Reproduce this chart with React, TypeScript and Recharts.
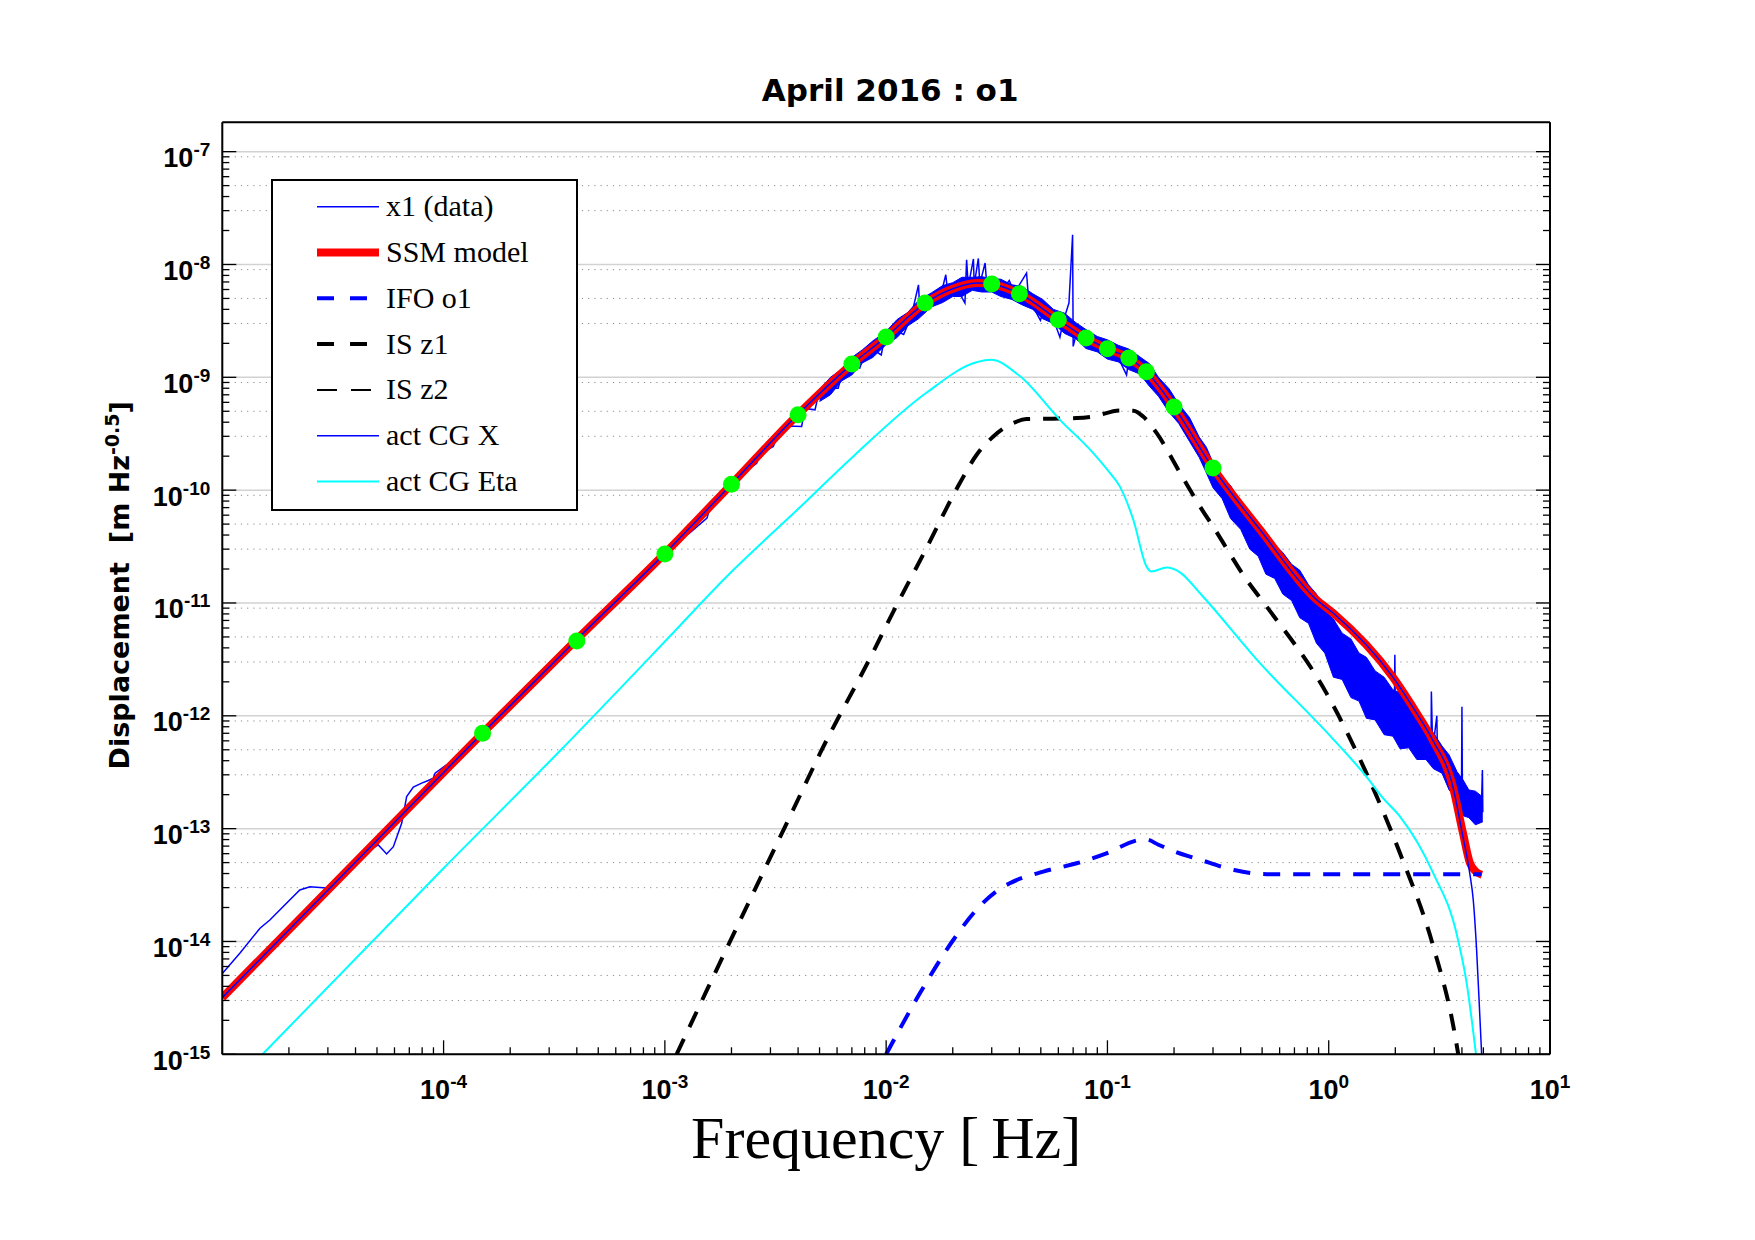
import React from 'react';
import { ComposedChart, Line, Area, Scatter, XAxis, YAxis, CartesianGrid, Legend, Label } from 'recharts';

// ---------------- axis ticks ----------------
const minorMults = [2, 3, 4, 5, 6, 7, 8, 9];
const xDecadeExps = [-5, -4, -3, -2, -1, 0, 1];
const yDecadeExps = [-15, -14, -13, -12, -11, -10, -9, -8, -7];
const xLabelExps = [-4, -3, -2, -1, 0, 1];
const yLabelExps = [-15, -14, -13, -12, -11, -10, -9, -8, -7];

const xMajor = xDecadeExps.map((e) => Math.pow(10, e));
const xMinor = xDecadeExps.slice(0, -1).flatMap((e) => minorMults.map((m) => m * Math.pow(10, e)));
const yMajor = yDecadeExps.map((e) => Math.pow(10, e));
const yMinor = yDecadeExps.slice(0, -1).flatMap((e) => minorMults.map((m) => m * Math.pow(10, e)));
const xAll = [...xMajor, ...xMinor].sort((a, b) => a - b);
const yAll = [...yMajor, ...yMinor].sort((a, b) => a - b);

const X_DOMAIN = [1e-5, 10];
const Y_DOMAIN = [1e-15, 1.82e-7];

// ---------------- series data ----------------
// x1 (data)
const dataF = [
  1e-5, 1.2e-5, 1.48e-5, 1.64e-5, 1.95e-5, 2.24e-5, 2.49e-5, 2.86e-5, 3.07e-5, 3.4e-5, 4e-5, 4.6e-5,
  5.07e-5, 5.53e-5, 5.93e-5, 6.47e-5, 6.81e-5, 7.3e-5, 7.96e-5, 8.53e-5, 8.98e-5, 9.15e-5, 1.03e-4,
  1.19e-4, 1.5e-4, 2e-4, 3e-4, 4e-4, 6e-4, 8e-4, 1e-3,
  1.2e-3, 1.3e-3, 1.55e-3, 1.6e-3, 2e-3, 2.3e-3, 2.6e-3, 2.7e-3, 3.09e-3, 3.2e-3, 3.6e-3, 4.15e-3,
  4.3e-3, 4.77e-3, 4.9e-3, 5.5e-3, 6.07e-3, 6.3e-3, 7e-3, 7.6e-3, 7.9e-3, 8.6e-3, 9.5e-3, 9.8e-3,
  1.1e-2, 1.2e-2, 1.3e-2, 1.4e-2, 1.42e-2, 1.6e-2, 1.75e-2, 1.86e-2, 1.9e-2, 2.1e-2, 2.27e-2, 2.31e-2,
  2.35e-2, 2.48e-2, 2.5e-2, 2.61e-2, 2.65e-2, 2.8e-2, 2.85e-2, 3.1e-2, 3.4e-2, 3.6e-2, 3.8e-2, 4.31e-2,
  4.4e-2, 4.98e-2, 5.2e-2, 5.6e-2, 6.1e-2, 6.3e-2, 6.7e-2, 6.96e-2, 7.0e-2, 7.3e-2, 8e-2, 9e-2, 0.1,
  0.11, 0.122, 0.125, 0.14, 0.15, 0.17, 0.2, 0.25, 0.3, 0.37, 0.52, 0.74, 1.0, 1.05, 1.06, 1.07, 1.48,
  1.98, 1.99, 2.0, 2.5, 2.9, 2.91, 2.95, 3.08, 3.1, 3.6, 3.98, 4.0, 4.02, 4.5, 4.9, 4.95, 4.97,
];
const dataV = [
  5.2e-15, 7.86e-15, 1.31e-14, 1.55e-14, 2.18e-14, 2.86e-14, 3.06e-14, 3.0e-14, 2.96e-14, 3.5e-14, 4.9e-14, 6.4e-14,
  7.17e-14, 5.97e-14, 6.92e-14, 1.12e-13, 1.92e-13, 2.33e-13, 2.53e-13, 2.67e-13, 2.8e-13, 3.1e-13, 3.67e-13,
  4.21e-13, 6.9e-13, 1.22e-12, 2.75e-12, 4.7e-12, 1.05e-11, 1.8e-11, 2.7e-11,
  3.8e-11, 4.2e-11, 5.65e-11, 7.0e-11, 1.1e-10, 1.45e-10, 1.73e-10, 2.1e-10, 2.44e-10, 2.9e-10, 3.7e-10, 3.67e-10,
  5.3e-10, 5.15e-10, 6.5e-10, 8.0e-10, 8.0e-10, 1.05e-9, 1.28e-9, 1.21e-9, 1.5e-9, 1.8e-9, 1.58e-9, 2.15e-9,
  2.6e-9, 2.4e-9, 3.5e-9, 6.6e-9, 3.8e-9, 4.6e-9, 5.0e-9, 8.1e-9, 5.5e-9, 6.0e-9, 4.55e-9, 1.1e-8,
  6.4e-9, 1.12e-8, 6.6e-9, 1.13e-8, 6.7e-9, 1.03e-8, 6.6e-9, 6.3e-9, 6.2e-9, 7.2e-9, 5.6e-9, 8.4e-9,
  5.0e-9, 3.2e-9, 4.2e-9, 3.6e-9, 2.27e-9, 3.1e-9, 4.55e-9, 1.83e-8, 1.88e-9, 2.6e-9, 2.2e-9, 2.0e-9, 1.75e-9,
  1.6e-9, 1.05e-9, 1.45e-9, 1.25e-9, 1.1e-9, 8.2e-10, 5.2e-10, 2.6e-10, 1.45e-10, 8.5e-11, 3.0e-11, 1.3e-11, 5.0e-12, 4.2e-12, 7e-12, 3.8e-12, 2.2e-12,
  1.2e-12, 3.47e-12, 1.1e-12, 6.5e-13, 5.0e-13, 1.64e-12, 5e-13, 1.0e-12, 4.6e-13, 3.0e-13, 2.0e-13, 1.2e-12, 2.0e-13, 1.7e-13, 1.6e-13, 3.3e-13, 1.4e-13,
];
// x1 (data) noise envelope (lower / upper edge of the dense noisy trace)
const bandF = [
  5e-3, 5.6e-3, 6.3e-3, 7e-3, 7.8e-3, 8.7e-3, 1e-2, 1.12e-2, 1.25e-2, 1.4e-2, 1.6e-2, 1.8e-2, 2e-2, 2.2e-2,
  2.45e-2, 2.7e-2, 3e-2, 3.3e-2, 3.7e-2, 4.1e-2, 4.6e-2, 5.1e-2, 5.7e-2, 6.4e-2, 7.2e-2, 8e-2, 9e-2, 0.1,
  0.112, 0.125, 0.14, 0.155, 0.17, 0.19, 0.21, 0.235, 0.26, 0.28,
  0.3, 0.33, 0.36, 0.4, 0.44, 0.48, 0.52, 0.57, 0.62, 0.68, 0.74, 0.81, 0.88, 0.96, 1.05, 1.15, 1.26, 1.37,
  1.48, 1.62, 1.78, 1.95, 2.1, 2.3, 2.5, 2.75, 2.97, 3.25, 3.5, 3.8, 4.05, 4.3, 4.6, 4.97,
];
const bandLo = [
  6.1e-10, 7.0e-10, 9.3e-10, 1.05e-9, 1.34e-9, 1.5e-9, 1.95e-9, 2.25e-9, 2.85e-9, 3.3e-9, 4.2e-9, 4.6e-9, 5.2e-9, 5.2e-9,
  5.9e-9, 5.7e-9, 5.7e-9, 5.2e-9, 4.9e-9, 4.4e-9, 4.0e-9, 3.3e-9, 3.0e-9, 2.45e-9, 2.2e-9, 1.8e-9, 1.68e-9, 1.45e-9,
  1.37e-9, 1.17e-9, 1.07e-9, 8.3e-10, 6.8e-10, 4.9e-10, 3.9e-10, 2.7e-10, 1.95e-10, 1.42e-10,
  1.05e-10, 8.4e-11, 5.6e-11, 4.5e-11, 3.0e-11, 2.6e-11, 1.8e-11, 1.65e-11, 1.2e-11, 1.05e-11, 7.4e-12, 6.6e-12, 4.4e-12, 3.6e-12, 2.2e-12, 2.1e-12, 1.45e-12, 1.35e-12,
  9.5e-13, 9.2e-13, 6.8e-13, 6.6e-13, 5.1e-13, 5.2e-13, 4.1e-13, 4.1e-13, 3.4e-13, 3.1e-13, 2.2e-13, 1.85e-13, 1.3e-13, 1.25e-13, 1.08e-13, 1.15e-13,
];
const bandHi = [
  7.8e-10, 1.0e-9, 1.18e-9, 1.5e-9, 1.75e-9, 2.1e-9, 2.55e-9, 3.25e-9, 3.75e-9, 4.8e-9, 5.6e-9, 6.5e-9, 6.9e-9, 7.7e-9,
  7.7e-9, 7.8e-9, 7.5e-9, 7.4e-9, 6.6e-9, 6.4e-9, 5.5e-9, 4.9e-9, 4.0e-9, 3.7e-9, 3.05e-9, 2.65e-9, 2.3e-9, 2.15e-9,
  1.92e-9, 1.78e-9, 1.52e-9, 1.32e-9, 1.0e-9, 7.9e-10, 5.8e-10, 4.4e-10, 2.95e-10, 2.4e-10,
  1.75e-10, 1.3e-10, 1.1e-10, 7.8e-11, 6.3e-11, 4.8e-11, 4.2e-11, 3.3e-11, 2.8e-11, 2.2e-11, 1.95e-11, 1.45e-11, 1.2e-11, 8.7e-12, 7.2e-12, 5.4e-12, 4.8e-12, 3.6e-12,
  3.3e-12, 2.5e-12, 2.2e-12, 1.7e-12, 1.6e-12, 1.2e-12, 1.02e-12, 7.9e-13, 7.1e-13, 5.4e-13, 4.5e-13, 3.2e-13, 2.7e-13, 2.2e-13, 2.15e-13, 1.9e-13,
];

// SSM model
const ssmF = [1e-5, 1e-4, 1.5e-4, 4e-4, 1e-3, 2e-3, 4e-3, 7e-3, 1e-2, 1.5e-2, 2e-2, 2.6e-2, 3e-2, 4e-2, 6e-2, 8e-2, 0.1, 0.125, 0.15, 0.2, 0.3, 0.49, 0.88, 1.05, 1.95, 2.5, 2.95, 3.64, 4.04, 4.34, 4.6, 4.92];
const ssmV = [3.18e-15, 3.15e-13, 7.02e-13, 4.75e-12, 2.75e-11, 1.13e-10, 4.7e-10, 1.31e-9, 2.28e-9, 4.55e-9, 6.1e-9, 6.85e-9, 6.7e-9, 5.5e-9, 3.23e-9, 2.23e-9, 1.79e-9, 1.48e-9, 1.12e-9, 5.45e-10, 1.57e-10, 4.45e-11, 1.07e-11, 8.1e-12, 2.2e-12, 1.05e-12, 6.1e-13, 2.35e-13, 9.2e-14, 5.0e-14, 4.2e-14, 3.9e-14];

// IFO o1
const ifoF = [1e-2, 1.42e-2, 2.01e-2, 2.48e-2, 3.21e-2, 3.62e-2, 5.13e-2, 7.26e-2, 9.9e-2, 0.14, 0.15, 0.17, 0.2, 0.262, 0.374, 0.524, 1.0, 4.9];
const ifoV = [1e-15, 3.47e-15, 1.03e-14, 1.78e-14, 2.86e-14, 3.28e-14, 4.16e-14, 4.93e-14, 6.05e-14, 7.94e-14, 8.0e-14, 7.2e-14, 6.3e-14, 5.3e-14, 4.3e-14, 3.95e-14, 3.95e-14, 3.95e-14];

// IS z1
const isz1F = [1.13e-3, 1.55e-3, 2.79e-3, 3.8e-3, 5.03e-3, 8.75e-3, 1.04e-2, 1.5e-2, 2.15e-2, 2.56e-2, 3.05e-2, 3.75e-2, 4.31e-2, 5.3e-2, 7.26e-2, 8.63e-2, 0.1137, 0.131, 0.145, 0.167, 0.213, 0.262, 0.3, 0.426, 0.524, 0.978, 1.48, 2.1, 2.97, 3.66, 3.85];
const isz1V = [1e-15, 3.72e-15, 4.16e-14, 1.47e-13, 4.66e-13, 3.7e-12, 7.3e-12, 2.9e-11, 1.15e-10, 2.05e-10, 2.99e-10, 3.93e-10, 4.26e-10, 4.29e-10, 4.35e-10, 4.49e-10, 5.08e-10, 5.05e-10, 4.49e-10, 3.2e-10, 1.42e-10, 7.16e-11, 4.76e-11, 1.6e-11, 9.3e-12, 1.58e-12, 3.1e-13, 6.05e-14, 9.0e-15, 1.76e-15, 1e-15];

// IS z2 (no visible points inside the plotted range)
const isz2F: number[] = [];
const isz2V: number[] = [];

// act CG X
const actXF = [1e-5, 1e-4, 1.5e-4, 4e-4, 1e-3, 2e-3, 4e-3, 7e-3, 1e-2, 1.5e-2, 2e-2, 2.6e-2, 3e-2, 4e-2, 6e-2, 8e-2, 0.1, 0.125, 0.15, 0.2, 0.3, 0.49, 0.88, 1.05, 1.95, 2.5, 2.95, 3.64, 4.04, 4.34, 4.5, 4.66, 4.82, 4.91];
const actXV = [3.18e-15, 3.15e-13, 7.02e-13, 4.75e-12, 2.75e-11, 1.13e-10, 4.7e-10, 1.31e-9, 2.28e-9, 4.55e-9, 6.1e-9, 6.85e-9, 6.7e-9, 5.5e-9, 3.23e-9, 2.23e-9, 1.79e-9, 1.48e-9, 1.12e-9, 5.45e-10, 1.57e-10, 4.45e-11, 1.07e-11, 8.1e-12, 2.2e-12, 1.05e-12, 6.1e-13, 2.35e-13, 8.5e-14, 4.0e-14, 2.33e-14, 8.4e-15, 2.15e-15, 1e-15];

// act CG Eta
const etaF = [1.52e-5, 1e-4, 3.36e-4, 1e-3, 1.9e-3, 4e-3, 7.1e-3, 1.52e-2, 2.56e-2, 2.98e-2, 4.03e-2, 6.1e-2, 8.63e-2, 0.1026, 0.1137, 0.1309, 0.1503, 0.158, 0.1855, 0.2128, 0.262, 0.489, 1.01, 1.48, 1.76, 2.1, 2.97, 3.78, 4.2, 4.63];
const etaV = [1e-15, 4.46e-14, 4.9e-13, 4.55e-12, 1.71e-11, 6.8e-11, 1.99e-10, 7.3e-10, 1.36e-9, 1.43e-9, 1.02e-9, 4.2e-10, 2.13e-10, 1.42e-10, 1.08e-10, 5.46e-11, 2.1e-11, 1.9e-11, 2.06e-11, 1.87e-11, 1.22e-11, 2.93e-12, 6.7e-13, 2.89e-13, 1.86e-13, 1.28e-13, 4.02e-14, 1.18e-14, 4.3e-15, 1e-15];

// SSM fit points (green markers)
const dotF = [1.5e-4, 4e-4, 1e-3, 2e-3, 4e-3, 7e-3, 1e-2, 1.5e-2, 3e-2, 4e-2, 6e-2, 8e-2, 0.1, 0.125, 0.15, 0.2, 0.3];
const dotV = [7.02e-13, 4.61e-12, 2.72e-11, 1.13e-10, 4.66e-10, 1.31e-9, 2.28e-9, 4.55e-9, 6.7e-9, 5.5e-9, 3.23e-9, 2.23e-9, 1.79e-9, 1.48e-9, 1.12e-9, 5.45e-10, 1.57e-10];

const pts = (f: number[], v: number[]) => f.map((x, i) => ({ f: x, v: v[i] }));
const bandData = bandF.map((x, i) => ({ f: x, band: [bandLo[i], bandHi[i]] }));

// ---------------- styling ----------------
const BLUE = '#0000ff';
const RED = '#ff0000';
const CYAN = '#00ffff';
const GREEN = '#00ff00';
const TICK_FONT = '"Liberation Sans", Arial, sans-serif';
const BOLD_FONT = '"DejaVu Sans", "Liberation Sans", sans-serif';
const SERIF = '"Liberation Serif", "Times New Roman", serif';
const TMAJ = 14;
const TMIN = 7;

const legendItems = [
  { name: 'x1 (data)', color: BLUE, w: 1.5, dash: undefined as string | undefined, len: 62 },
  { name: 'SSM model', color: RED, w: 8, dash: undefined, len: 62 },
  { name: 'IFO o1', color: BLUE, w: 4, dash: '17 16', len: 50 },
  { name: 'IS z1', color: '#000000', w: 4, dash: '17 16', len: 50 },
  { name: 'IS z2', color: '#000000', w: 2, dash: '20 14', len: 54 },
  { name: 'act CG X', color: BLUE, w: 1.5, dash: undefined, len: 62 },
  { name: 'act CG Eta', color: CYAN, w: 2, dash: undefined, len: 62 },
];

const isDecade = (v: number) => Math.abs(Math.log10(v) - Math.round(Math.log10(v))) < 1e-6;
const expOf = (v: number) => Math.round(Math.log10(v));

function TickLabel({ x, y, e, anchor }: { x: number; y: number; e: number; anchor: string }) {
  return (
    <text x={x} y={y} textAnchor={anchor} fontFamily={TICK_FONT} fontWeight="bold" fontSize={27} fill="#000">
      <tspan>10</tspan>
      <tspan dy={-11} fontSize={19}>{String(e)}</tspan>
    </text>
  );
}

function XTickBottom(props: any) {
  const { x, y, payload } = props;
  const v = payload.value;
  const maj = isDecade(v);
  const e = expOf(v);
  return (
    <g>
      <line x1={x} x2={x} y1={y} y2={y - (maj ? TMAJ : TMIN)} stroke="#000" strokeWidth={1.3} />
      {maj && xLabelExps.includes(e) && <TickLabel x={x} y={y + 45} e={e} anchor="middle" />}
    </g>
  );
}
function XTickTop(props: any) {
  const { x, y, payload } = props;
  const maj = isDecade(payload.value);
  return <line x1={x} x2={x} y1={y} y2={y + (maj ? TMAJ : TMIN)} stroke="#000" strokeWidth={1.3} />;
}
function YTickLeft(props: any) {
  const { x, y, payload } = props;
  const v = payload.value;
  const maj = isDecade(v);
  const e = expOf(v);
  return (
    <g>
      <line x1={x} x2={x + (maj ? TMAJ : TMIN)} y1={y} y2={y} stroke="#000" strokeWidth={1.3} />
      {maj && yLabelExps.includes(e) && <TickLabel x={x - 12} y={y + 15.5} e={e} anchor="end" />}
    </g>
  );
}
function YTickRight(props: any) {
  const { x, y, payload } = props;
  const maj = isDecade(payload.value);
  return <line x1={x} x2={x - (maj ? TMAJ : TMIN)} y1={y} y2={y} stroke="#000" strokeWidth={1.3} />;
}

function TitleLabel(props: any) {
  const vb = props.viewBox || { x: 0, y: 0, width: 0, height: 0 };
  return (
    <text x={vb.x + vb.width / 2 + 4} y={vb.y + 39} textAnchor="middle" fontFamily={BOLD_FONT} fontWeight="bold" fontSize={31} fill="#000">
      April 2016 : o1
    </text>
  );
}
function XAxisTitle(props: any) {
  const vb = props.viewBox || { x: 0, y: 0, width: 0, height: 0 };
  return (
    <text x={vb.x + vb.width / 2} y={vb.y + 104} textAnchor="middle" fontFamily={SERIF} fontSize={60} fill="#000">
      {'Frequency [\u2009Hz]'}
    </text>
  );
}
function YAxisTitle(props: any) {
  const vb = props.viewBox || { x: 0, y: 0, width: 0, height: 0 };
  const cx = vb.x + 67;
  const cy = vb.y + vb.height / 2 - 3;
  return (
    <text
      x={cx}
      y={cy}
      transform={`rotate(-90, ${cx}, ${cy})`}
      textAnchor="middle"
      fontFamily={BOLD_FONT}
      fontWeight="bold"
      fontSize={27}
      fill="#000"
      style={{ whiteSpace: 'pre' }}
    >
      <tspan>{'Displacement  [m Hz'}</tspan>
      <tspan dy={-10} fontSize={19}>-0.5</tspan>
      <tspan dy={10}>]</tspan>
    </text>
  );
}

function LegendBox() {
  const rowY = (i: number) => 27.7 + i * 45.8;
  return (
    <svg width={307} height={332} style={{ display: 'block' }}>
      <rect x={1} y={1} width={305} height={330} fill="#ffffff" stroke="#000" strokeWidth={2} />
      {legendItems.map((it, i) => (
        <g key={it.name}>
          <line x1={46} x2={46 + it.len} y1={rowY(i)} y2={rowY(i)} stroke={it.color} strokeWidth={it.w} strokeDasharray={it.dash} />
          <text x={115} y={rowY(i) + 9.5} fontFamily={SERIF} fontSize={30} fill="#000">
            {it.name}
          </text>
        </g>
      ))}
    </svg>
  );
}

export default function App() {
  return (
    <div style={{ position: 'absolute', left: 0, top: 0, width: 1755, height: 1240, background: '#ffffff' }}>
      <ComposedChart width={1755} height={1240} margin={{ top: 62.3, right: 195, bottom: 75.7, left: 62.3 }}>
        {/* hidden axes that carry grid positions */}
        <XAxis xAxisId="xmaj" type="number" scale="log" domain={X_DOMAIN} allowDataOverflow ticks={xMajor} hide />
        <XAxis xAxisId="xmin" type="number" scale="log" domain={X_DOMAIN} allowDataOverflow ticks={xMinor} hide />
        <YAxis yAxisId="ymaj" type="number" scale="log" domain={Y_DOMAIN} allowDataOverflow ticks={yMajor} hide />
        <YAxis yAxisId="ymin" type="number" scale="log" domain={Y_DOMAIN} allowDataOverflow ticks={yMinor} hide />
        <CartesianGrid xAxisId="xmin" yAxisId="ymin" stroke="#8c8c8c" strokeWidth={1} strokeDasharray="1.2 5" />
        <CartesianGrid xAxisId="xmaj" yAxisId="ymaj" stroke="#d2d2d2" strokeWidth={1.5} />

        <XAxis
          xAxisId="x"
          dataKey="f"
          type="number"
          scale="log"
          domain={X_DOMAIN}
          allowDataOverflow
          ticks={xAll}
          interval={0}
          tick={<XTickBottom />}
          tickLine={false}
          tickSize={0}
          tickMargin={0}
          axisLine={{ stroke: '#000', strokeWidth: 2 }}
          height={110}
        >
          <Label content={<XAxisTitle />} />
        </XAxis>
        <XAxis
          xAxisId="xt"
          orientation="top"
          type="number"
          scale="log"
          domain={X_DOMAIN}
          allowDataOverflow
          ticks={xAll}
          interval={0}
          tick={<XTickTop />}
          tickLine={false}
          tickSize={0}
          tickMargin={0}
          axisLine={{ stroke: '#000', strokeWidth: 2 }}
          height={60}
        >
          <Label content={<TitleLabel />} />
        </XAxis>
        <YAxis
          yAxisId="y"
          dataKey="v"
          type="number"
          scale="log"
          domain={Y_DOMAIN}
          allowDataOverflow
          ticks={yAll}
          interval={0}
          tick={<YTickLeft />}
          tickLine={false}
          tickSize={0}
          tickMargin={0}
          axisLine={{ stroke: '#000', strokeWidth: 2 }}
          width={160}
        >
          <Label content={<YAxisTitle />} />
        </YAxis>
        <YAxis
          yAxisId="yr"
          orientation="right"
          type="number"
          scale="log"
          domain={Y_DOMAIN}
          allowDataOverflow
          ticks={yAll}
          interval={0}
          tick={<YTickRight />}
          tickLine={false}
          tickSize={0}
          tickMargin={0}
          axisLine={{ stroke: '#000', strokeWidth: 2 }}
          width={10}
        />

        <Area
          xAxisId="x"
          yAxisId="y"
          data={bandData}
          dataKey="band"
          type="linear"
          stroke={BLUE}
          strokeWidth={1}
          fill={BLUE}
          fillOpacity={1}
          isAnimationActive={false}
          activeDot={false}
          legendType="none"
        />
        <Line xAxisId="x" yAxisId="y" data={pts(dataF, dataV)} dataKey="v" name="x1 (data)" type="linear" stroke={BLUE} strokeWidth={1.5} dot={false} activeDot={false} isAnimationActive={false} />
        <Line xAxisId="x" yAxisId="y" data={pts(ssmF, ssmV)} dataKey="v" name="SSM model" type="monotone" stroke={RED} strokeWidth={8} dot={false} activeDot={false} isAnimationActive={false} />
        <Line xAxisId="x" yAxisId="y" data={pts(ifoF, ifoV)} dataKey="v" name="IFO o1" type="monotone" stroke={BLUE} strokeWidth={4} strokeDasharray="17 13" dot={false} activeDot={false} isAnimationActive={false} />
        <Line xAxisId="x" yAxisId="y" data={pts(isz1F, isz1V)} dataKey="v" name="IS z1" type="monotone" stroke="#000000" strokeWidth={4} strokeDasharray="17 13" dot={false} activeDot={false} isAnimationActive={false} />
        <Line xAxisId="x" yAxisId="y" data={pts(isz2F, isz2V)} dataKey="v" name="IS z2" type="monotone" stroke="#000000" strokeWidth={2} strokeDasharray="20 14" dot={false} activeDot={false} isAnimationActive={false} />
        <Line xAxisId="x" yAxisId="y" data={pts(etaF, etaV)} dataKey="v" name="act CG Eta" type="monotone" stroke={CYAN} strokeWidth={2} dot={false} activeDot={false} isAnimationActive={false} />
        <Line xAxisId="x" yAxisId="y" data={pts(actXF, actXV)} dataKey="v" name="act CG X" type="monotone" stroke={BLUE} strokeWidth={1.5} dot={false} activeDot={false} isAnimationActive={false} />
        <Scatter
          xAxisId="x"
          yAxisId="y"
          data={pts(dotF, dotV)}
          dataKey="v"
          name="SSM fit points"
          isAnimationActive={false}
          legendType="none"
          shape={(p: any) => <circle cx={p.cx} cy={p.cy} r={8.5} fill={GREEN} />}
        />
        <Legend
          layout="vertical"
          align="center"
          verticalAlign="middle"
          content={() => <LegendBox />}
          wrapperStyle={{ left: 270.5, top: 178.5, width: 307, height: 332 }}
        />
      </ComposedChart>
    </div>
  );
}
